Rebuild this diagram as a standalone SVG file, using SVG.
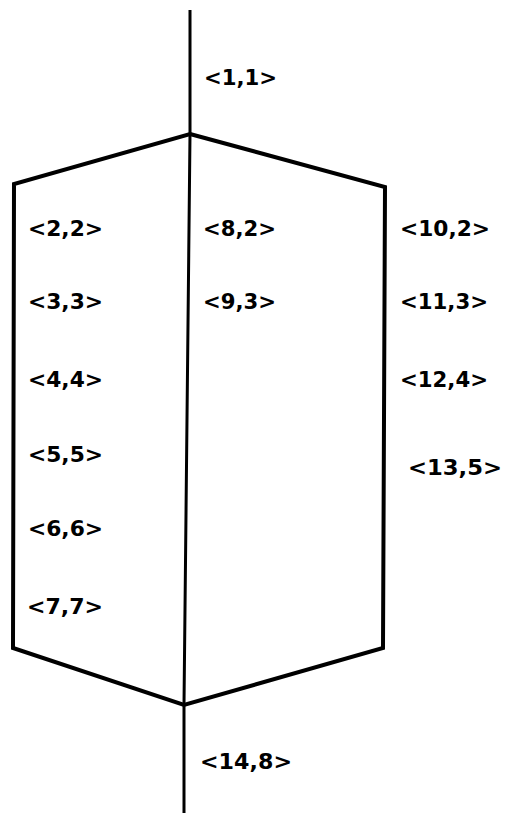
<svg xmlns="http://www.w3.org/2000/svg" width="507" height="813" viewBox="0 0 507 813">
<style>
.l{fill:none;stroke:#000;stroke-linejoin:miter;stroke-linecap:butt}
.t{font-family:"DejaVu Sans",sans-serif;font-weight:bold;font-size:22px;fill:#000}
</style>
<rect width="507" height="813" fill="#fff"/>
<g id="connectors">
<polyline class="l" stroke-width="3" points="190,10 190,134 184,705 184,813"/>
<polygon class="l" stroke-width="4" points="190,134 385,187 383,648 184,705 13,648 14,184"/>
</g>
<g id="n1"><text class="t" x="204" y="85" textLength="73" lengthAdjust="spacingAndGlyphs">&lt;1,1&gt;</text></g>
<g id="n2"><text class="t" x="28" y="236" textLength="75" lengthAdjust="spacingAndGlyphs">&lt;2,2&gt;</text></g>
<g id="n3"><text class="t" x="28" y="309" textLength="75" lengthAdjust="spacingAndGlyphs">&lt;3,3&gt;</text></g>
<g id="n4"><text class="t" x="28" y="387" textLength="75" lengthAdjust="spacingAndGlyphs">&lt;4,4&gt;</text></g>
<g id="n5"><text class="t" x="28" y="462" textLength="75" lengthAdjust="spacingAndGlyphs">&lt;5,5&gt;</text></g>
<g id="n6"><text class="t" x="28" y="536" textLength="75" lengthAdjust="spacingAndGlyphs">&lt;6,6&gt;</text></g>
<g id="n7"><text class="t" x="27" y="614" textLength="76" lengthAdjust="spacingAndGlyphs">&lt;7,7&gt;</text></g>
<g id="n8"><text class="t" x="203" y="236" textLength="73" lengthAdjust="spacingAndGlyphs">&lt;8,2&gt;</text></g>
<g id="n9"><text class="t" x="203" y="309" textLength="73" lengthAdjust="spacingAndGlyphs">&lt;9,3&gt;</text></g>
<g id="n10"><text class="t" x="400" y="236" textLength="90" lengthAdjust="spacingAndGlyphs">&lt;10,2&gt;</text></g>
<g id="n11"><text class="t" x="400" y="309" textLength="88" lengthAdjust="spacingAndGlyphs">&lt;11,3&gt;</text></g>
<g id="n12"><text class="t" x="400" y="387" textLength="88" lengthAdjust="spacingAndGlyphs">&lt;12,4&gt;</text></g>
<g id="n13"><text class="t" x="408" y="475" textLength="94" lengthAdjust="spacingAndGlyphs">&lt;13,5&gt;</text></g>
<g id="n14"><text class="t" x="200" y="769" textLength="92" lengthAdjust="spacingAndGlyphs">&lt;14,8&gt;</text></g>
</svg>
